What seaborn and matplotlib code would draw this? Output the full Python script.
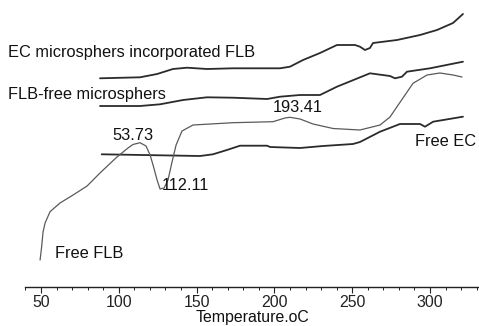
import matplotlib
matplotlib.use("Agg")
import matplotlib.pyplot as plt
import seaborn as sns
import pandas as pd
from matplotlib.ticker import MultipleLocator

# ---- data (temperature in °C, heat flow in arbitrary units) ----
ec_flb_T = [87.9, 113.6, 124.6, 134.8, 143.8, 156.7, 173.4, 195.3, 203.6, 210.0, 218.4,
            229.3, 240.2, 251.8, 255.0, 258.2, 261.4, 263.4, 278.8, 293.6, 304.5, 314.8, 321.2]
ec_flb_y = [206.7, 207.7, 211, 216, 217.3, 216, 216.7, 216.7, 216.7, 218.3, 225,
            232, 240, 240, 238.3, 235, 237, 242, 245, 250, 255, 262, 271]

flbfree_T = [87.9, 113.6, 126.5, 141.3, 156.7, 173.4, 195.3, 203.6, 216.5, 229.3, 240.2,
             261.4, 274.3, 277.5, 282.0, 285.2, 300.0, 321.2]
flbfree_y = [179, 179, 180.7, 185, 187.7, 187.3, 186, 188.3, 190, 190, 198.3,
             211.7, 209, 206.7, 208.3, 213.3, 216.7, 223.3]

ec_T = [89.0, 152.2, 160.5, 169.5, 177.9, 195.3, 197.2, 216.5, 231.2, 250.5, 255.0,
        267.9, 280.7, 293.6, 296.8, 302.0, 321.2]
ec_y = [130.7, 129, 130.7, 135, 139.3, 139.3, 138, 137, 139, 141, 143,
        153.3, 161, 161, 158.3, 163.3, 168.3]

flb_T = [49.4, 50.4, 51.3, 52.6, 55.8, 62.2, 70.6, 79.6, 87.9, 98.8, 105.9, 109.1, 113.6,
         117.5, 120.1, 122.0, 124.6, 126.5, 129.1, 131.6, 134.2, 136.8, 140.6, 147.7, 173.4,
         199.1, 206.8, 210.0, 216.5, 224.8, 237.7, 255.0, 267.9, 274.3, 278.8, 289.1, 298.1,
         306.4, 314.8, 320.6]
flb_y = [25, 38.3, 53, 62, 73.3, 82, 90, 99, 112, 128, 137, 140.5, 142.3,
         139, 130, 120, 105, 96, 97, 105, 123, 140, 154, 160, 162.3,
         163.3, 167, 167.7, 166, 161, 156.5, 155, 160, 168, 178.3, 201.7, 210,
         212, 210, 208]

curve_labels = ["EC microsphers incorporated FLB", "FLB-free microsphers", "Free EC", "Free FLB"]
peak_labels = ["53.73", "112.11", "193.41"]
xticks = [50, 100, 150, 200, 250, 300]

# ---- figure ----
sns.set_style("white")
plt.rcParams["font.family"] = ["Liberation Sans", "DejaVu Sans"]

fig = plt.figure(figsize=(4.79, 3.26), dpi=100)
ax = fig.add_axes([25 / 479, (326 - 287) / 326, 1 - 25 / 479, 287 / 326])

dark = "#2b2b2b"
sns.lineplot(x=ec_flb_T, y=ec_flb_y, ax=ax, color=dark, lw=1.3, sort=False, estimator=None)
sns.lineplot(x=flbfree_T, y=flbfree_y, ax=ax, color=dark, lw=1.3, sort=False, estimator=None)
sns.lineplot(x=ec_T, y=ec_y, ax=ax, color=dark, lw=1.3, sort=False, estimator=None)
sns.lineplot(x=flb_T, y=flb_y, ax=ax, color="#5a5a5a", lw=0.9, sort=False, estimator=None)

ax.set_xlim(39.7, 331.5)
ax.set_ylim(-2, 285)

fs = 11.8
tc = "#111111"
ax.text(28.8, 232, curve_labels[0], fontsize=fs, va="center", ha="left", color=tc)
ax.text(28.8, 190, curve_labels[1], fontsize=fs, va="center", ha="left", color=tc)
ax.text(290.4, 143, curve_labels[2], fontsize=fs, va="center", ha="left", color=tc)
ax.text(59.0, 32, curve_labels[3], fontsize=fs, va="center", ha="left", color=tc)
ax.text(95.6, 150, peak_labels[0], fontsize=fs, va="center", ha="left", color=tc)
ax.text(127.8, 99, peak_labels[1], fontsize=fs, va="center", ha="left", color=tc)
ax.text(199.1, 177, peak_labels[2], fontsize=fs, va="center", ha="left", color=tc)

for s in ["left", "right", "top"]:
    ax.spines[s].set_visible(False)
ax.spines["bottom"].set_color("#222222")
ax.spines["bottom"].set_linewidth(1.0)

ax.set_xticks(xticks)
ax.set_xticklabels([str(t) for t in xticks])
ax.xaxis.set_minor_locator(MultipleLocator(10))
ax.tick_params(axis="x", which="major", direction="out", length=4, width=0.8,
               colors="#222222", labelsize=11.4, pad=1.5, bottom=True)
ax.tick_params(axis="x", which="minor", direction="out", length=2.5, width=0.7,
               colors="#222222", bottom=True)
ax.set_yticks([])
ax.set_xlabel("Temperature.oC", fontsize=11.4, labelpad=0.5, color=tc)
ax.set_ylabel("")

fig.savefig("out.png", dpi=100)
